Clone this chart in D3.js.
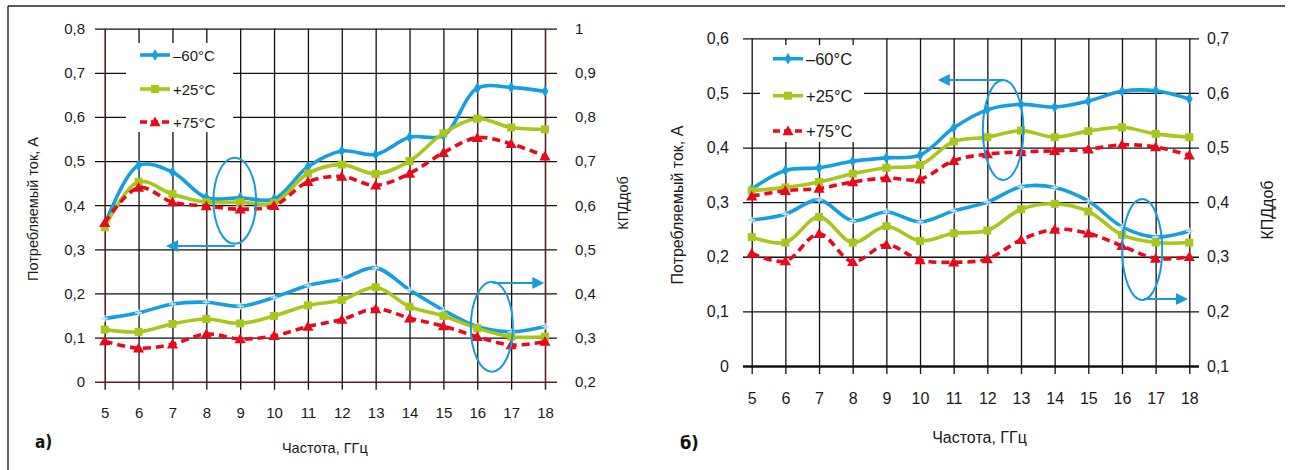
<!DOCTYPE html>
<html><head><meta charset="utf-8">
<script src="https://cdn.jsdelivr.net/npm/d3@7"></script>
<style>body{margin:0;background:#fff} svg{display:block}</style>
</head><body><svg id="c" width="1290" height="470"></svg>
<script>
// ---------------- data ----------------
const freq = [5,6,7,8,9,10,11,12,13,14,15,16,17,18];
const seriesNames = ["–60°C","+25°C","+75°C"];

// panel а) — consumed current (left axis) and efficiency (right axis)
const aCurM60 = [0.355,0.490,0.475,0.417,0.417,0.414,0.487,0.523,0.515,0.554,0.558,0.665,0.667,0.658];
const aCurP25 = [0.350,0.453,0.425,0.407,0.407,0.405,0.472,0.492,0.471,0.500,0.563,0.596,0.576,0.572];
const aCurP75 = [0.360,0.440,0.407,0.398,0.391,0.399,0.453,0.465,0.445,0.472,0.519,0.553,0.539,0.511];
const aEffM60 = [0.343,0.356,0.376,0.380,0.371,0.391,0.418,0.433,0.458,0.408,0.362,0.325,0.313,0.325];
const aEffP25 = [0.318,0.313,0.331,0.342,0.332,0.349,0.373,0.385,0.414,0.370,0.349,0.321,0.302,0.302];
const aEffP75 = [0.292,0.276,0.285,0.308,0.297,0.304,0.325,0.341,0.365,0.344,0.326,0.302,0.283,0.291];

// panel б)
const bCurM60 = [0.324,0.358,0.363,0.375,0.381,0.386,0.436,0.469,0.479,0.474,0.485,0.503,0.504,0.489];
const bCurP25 = [0.321,0.327,0.337,0.352,0.363,0.368,0.411,0.419,0.431,0.419,0.430,0.437,0.425,0.419];
const bCurP75 = [0.311,0.321,0.325,0.337,0.344,0.342,0.376,0.388,0.392,0.394,0.397,0.405,0.401,0.386];
const bEffM60 = [0.367,0.378,0.404,0.366,0.382,0.364,0.384,0.400,0.428,0.427,0.402,0.355,0.336,0.347];
const bEffP25 = [0.336,0.326,0.373,0.326,0.356,0.329,0.343,0.348,0.387,0.397,0.383,0.340,0.326,0.326];
const bEffP75 = [0.306,0.292,0.342,0.291,0.322,0.294,0.290,0.296,0.331,0.350,0.343,0.320,0.297,0.300];

// tick values
const aLeftTicks  = [0,0.1,0.2,0.3,0.4,0.5,0.6,0.7,0.8];
const aRightTicks = [0.2,0.3,0.4,0.5,0.6,0.7,0.8,0.9,1.0];
const bLeftTicks  = [0,0.1,0.2,0.3,0.4,0.5,0.6];
const bRightTicks = [0.1,0.2,0.3,0.4,0.5,0.6,0.7];

const xTitle = "Частота, ГГц";
const yLeftTitle = "Потребляемый ток, А";
const yRightTitle = "КПДдоб";

// annotations (data units: frequency, left-axis value)
const aEllipses = [{f:8.84, v:0.410, rf:0.63, rv:0.0975}, {f:16.43, v:0.1246, rf:0.62, rv:0.102}];
const aArrows   = [{f0:8.84, f1:6.81, v:0.3075}, {f0:16.45, f1:17.98, v:0.2237}];
const bEllipses = [{f:12.47, v:0.432, rf:0.603, rv:0.0915}, {f:16.60, v:0.2133, rf:0.594, rv:0.0925}];
const bArrows   = [{f0:12.50, f1:10.53, v:0.5236}, {f0:16.65, f1:17.96, v:0.1227}];

// ---------------- drawing ----------------
const svg = d3.select("#c");
const BLUE = "#169fdc", GREEN = "#a8c61c", RED = "#e8091e", PALE = "#b5e0f7", ANN = "#1a9ad6";
const FONT = "'Liberation Sans', Arial, sans-serif";
const fmt = d => (Math.round(d*10)/10).toString().replace(".", ",");

// frame
svg.append("line").attr("x1",8).attr("x2",1285).attr("y1",6).attr("y2",6).attr("stroke","#222").attr("stroke-width",1.4);
svg.append("line").attr("x1",8).attr("x2",8).attr("y1",6).attr("y2",470).attr("stroke","#222").attr("stroke-width",1.4);

const defs = svg.append("defs");

function drawPanel(p) {
  const x = d3.scaleLinear().domain([5,18]).range([p.x0, p.x1]);
  const yL = d3.scaleLinear().domain(p.ldom).range([p.y0, p.y1]);
  const yR = d3.scaleLinear().domain(p.rdom).range([p.y0, p.y1]);
  const g = svg.append("g");

  // horizontal grid + left labels
  const gl = g.append("g").attr("transform",`translate(${p.x0 - p.extL},0)`)
    .call(d3.axisLeft(yL).tickValues(p.lticks).tickFormat(fmt)
      .tickSizeInner(-(p.x1 - p.x0 + p.extL + p.extR)).tickSizeOuter(0).tickPadding(p.padL));
  gl.select(".domain").remove();
  gl.selectAll(".tick line").attr("stroke","#111").attr("stroke-width",1.3);
  gl.selectAll(".tick text").attr("font-family",FONT).attr("font-size",p.fs).attr("fill","#1a1a1a");

  // vertical grid + bottom labels
  const gb = g.append("g").attr("transform",`translate(0,${p.y0 + 8})`)
    .call(d3.axisBottom(x).tickValues(freq).tickFormat(d3.format("d"))
      .tickSizeInner(-(p.y0 + 8 - p.y1)).tickSizeOuter(0).tickPadding(p.padB));
  gb.select(".domain").remove();
  gb.selectAll(".tick line").attr("stroke","#111").attr("stroke-width",1.3);
  gb.selectAll(".tick text").attr("font-family",FONT).attr("font-size",p.fs).attr("fill","#1a1a1a");

  // axis edge lines
  gb.selectAll(".tick line").filter(d => d === 5 || d === 18)
    .attr("stroke",p.edge).attr("stroke-width",p.edgeW);
  gl.selectAll(".tick line").filter(d => d === 0)
    .attr("stroke",p.edge).attr("stroke-width",p.bottomW);

  // right labels
  const gr = g.append("g").attr("transform",`translate(${p.x1 + p.extR},0)`)
    .call(d3.axisRight(yR).tickValues(p.rticks).tickFormat(fmt).tickSize(0).tickPadding(p.padR));
  gr.select(".domain").remove();
  gr.selectAll(".tick text").attr("font-family",FONT).attr("font-size",p.fs).attr("fill","#1a1a1a");

  // titles
  g.append("text").attr("x",(p.x0+p.x1)/2 + p.xtDx).attr("y",p.xtY).attr("text-anchor","middle")
    .attr("dominant-baseline","central").attr("font-family",FONT).attr("font-size",p.tfs).attr("fill","#1a1a1a").text(xTitle);
  g.append("text").attr("transform",`translate(${p.ylX},${p.ylY}) rotate(-90)`).attr("text-anchor","middle")
    .attr("dominant-baseline","central").attr("font-family",FONT).attr("font-size",p.tfs).attr("fill","#1a1a1a").text(yLeftTitle);
  g.append("text").attr("transform",`translate(${p.yrX},${p.yrY}) rotate(-90)`).attr("text-anchor","middle")
    .attr("dominant-baseline","central").attr("font-family",FONT).attr("font-size",p.tfs).attr("fill","#1a1a1a").text(yRightTitle);
  g.append("text").attr("x",p.labX).attr("y",p.labY).attr("dominant-baseline","central")
    .attr("font-family","'Liberation Sans Narrow','DejaVu Sans Condensed',sans-serif").attr("font-weight","bold")
    .attr("font-size",p.labFs).attr("fill","#111").text(p.label);

  // legend background
  g.append("rect").attr("x",p.leg.bx0).attr("y",p.leg.by0).attr("width",p.leg.bx1-p.leg.bx0)
    .attr("height",p.leg.by1-p.leg.by0).attr("fill","#fff");

  const curve = d3.curveCatmullRom.alpha(0.5);
  const styles = [
    {color:BLUE, dash:null, marker:"diamond"},
    {color:GREEN, dash:null, marker:"square"},
    {color:RED, dash:"8,5", marker:"triangle"}
  ];
  function markerPath(type, size) {
    if (type === "diamond") return d3.symbol(d3.symbolDiamond, size*5)();
    if (type === "square") return d3.symbol(d3.symbolSquare, size*size)();
    if (type === "triangle") return d3.symbol(d3.symbolTriangle, size*size*0.45)();
    return null;
  }
  function drawSeries(vals, scale, st, lowerBlue) {
    const line = d3.line().x((d,i)=>x(freq[i])).y(d=>scale(d)).curve(curve);
    g.append("path").datum(vals).attr("d",line).attr("fill","none").attr("stroke",st.color)
      .attr("stroke-width",p.lw).attr("stroke-dasharray",st.dash).attr("stroke-linejoin","round");
    const mk = g.append("g");
    vals.forEach((v,i)=>{
      const cx = x(freq[i]), cy = scale(v);
      if (lowerBlue) {
        mk.append("path").attr("d",`M${cx-3.5},${cy}H${cx+3.5}M${cx},${cy-3.5}V${cy+3.5}`)
          .attr("stroke",PALE).attr("stroke-width",1.6);
      } else if (st.marker === "diamond") {
        mk.append("path").attr("d",markerPath("diamond",p.ms)).attr("transform",`translate(${cx},${cy})`).attr("fill",BLUE);
      } else if (st.marker === "square") {
        mk.append("path").attr("d",markerPath("square",p.ms)).attr("transform",`translate(${cx},${cy})`).attr("fill",GREEN);
      } else {
        mk.append("path").attr("d",markerPath("triangle",p.ms+3)).attr("transform",`translate(${cx},${cy+1})`).attr("fill",RED);
      }
    });
  }
  p.cur.forEach((vals,k)=>drawSeries(vals, yL, styles[k], false));
  p.eff.forEach((vals,k)=>drawSeries(vals, yR, styles[k], k===0));

  // annotations
  p.ellipses.forEach(e=>{
    g.append("ellipse").attr("cx",x(e.f)).attr("cy",yL(e.v))
      .attr("rx",x(5+e.rf)-x(5)).attr("ry",yL(0)-yL(e.rv))
      .attr("fill","none").attr("stroke",ANN).attr("stroke-width",2);
  });
  p.arrows.forEach(a=>{
    const xa = x(a.f0), xb = x(a.f1), yy = yL(a.v), dir = xb < xa ? -1 : 1;
    g.append("line").attr("x1",xa).attr("x2",xb - dir*10).attr("y1",yy).attr("y2",yy)
      .attr("stroke",ANN).attr("stroke-width",2);
    g.append("path").attr("d",`M${xb},${yy}L${xb-dir*12},${yy-6}L${xb-dir*12},${yy+6}Z`).attr("fill",ANN);
  });

  // legend
  seriesNames.forEach((name,k)=>{
    const st = styles[k], ly = p.leg.ys[k];
    g.append("line").attr("x1",p.leg.lx0).attr("x2",p.leg.lx1).attr("y1",ly).attr("y2",ly)
      .attr("stroke",st.color).attr("stroke-width",p.lw).attr("stroke-dasharray",st.dash ? "7,4" : null);
    const cx = (p.leg.lx0+p.leg.lx1)/2;
    const sz = st.marker === "triangle" ? p.ms+3 : p.ms;
    g.append("path").attr("d",markerPath(st.marker, sz)).attr("transform",`translate(${cx},${ly + (st.marker==="triangle"?1:0)})`).attr("fill",st.color);
    g.append("text").attr("x",p.leg.tx).attr("y",ly).attr("dominant-baseline","central")
      .attr("font-family",FONT).attr("font-size",p.lfs).attr("fill","#1a1a1a").text(name);
  });
}

drawPanel({
  x0:104.7, x1:545, y0:381.7, y1:28.7, ldom:[0,0.8], rdom:[0.2,1.0],
  lticks:aLeftTicks, rticks:aRightTicks, extL:9.7, extR:12, padL:10, padR:18, padB:18,
  fs:15, tfs:14.5, lfs:15, lw:3.6, ms:8,
  edge:"#5a1e1e", edgeW:1.6, bottomW:1.6,
  xtDx:0, xtY:448, ylX:33, ylY:209, yrX:623, yrY:203,
  label:"а)", labX:35, labY:442, labFs:17,
  cur:[aCurM60,aCurP25,aCurP75], eff:[aEffM60,aEffP25,aEffP75],
  ellipses:aEllipses, arrows:aArrows,
  leg:{bx0:126, bx1:233, by0:43, by1:132, lx0:140, lx1:170, tx:173, ys:[55,89,122]}
});

drawPanel({
  x0:751.7, x1:1189.3, y0:366, y1:38.3, ldom:[0,0.6], rdom:[0.1,0.7],
  lticks:bLeftTicks, rticks:bRightTicks, extL:8.7, extR:9.7, padL:14, padR:8, padB:19,
  fs:16, tfs:16, lfs:16.5, lw:3.6, ms:8,
  edge:"#111", edgeW:1.3, bottomW:2.6,
  xtDx:9, xtY:437, ylX:677, ylY:205, yrX:1267, yrY:210,
  label:"б)", labX:680, labY:442, labFs:18,
  cur:[bCurM60,bCurP25,bCurP75], eff:[bEffM60,bEffP25,bEffP75],
  ellipses:bEllipses, arrows:bArrows,
  leg:{bx0:760, bx1:864, by0:45, by1:142, lx0:773, lx1:803, tx:806, ys:[58.7,95.7,131]}
});
</script></body></html>
